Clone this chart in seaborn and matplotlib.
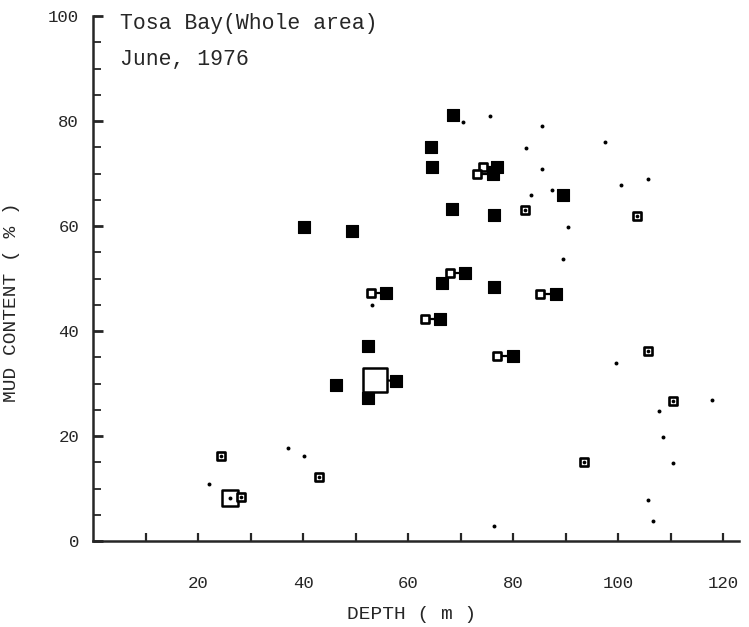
import matplotlib
matplotlib.use('Agg')
import matplotlib.pyplot as plt
import seaborn as sns

# filled squares standing alone (depth m, mud %)
filled_depth = [40.2, 49.3, 68.5, 64.4, 64.5, 89.5, 68.4, 76.4, 66.4, 76.4, 52.3, 46.2, 52.3, 57.7]
filled_mud = [59.9, 59.0, 81.1, 75.1, 71.2, 66.0, 63.2, 62.1, 49.1, 48.3, 37.1, 29.7, 27.2, 30.5]

# open square joined to a filled square
pair_open_depth = [52.9, 63.2, 68.0, 76.9, 85.1, 74.2, 73.1]
pair_filled_depth = [55.7, 66.1, 70.9, 79.9, 88.1, 77.0, 76.1]
pair_mud = [47.2, 42.2, 51.0, 35.3, 47.0, 71.2, 70.0]

# open squares with a dot inside
dotted_depth = [82.3, 103.6, 105.6, 110.5, 93.5, 24.3, 28.2, 43.1]
dotted_mud = [63.0, 62.0, 36.1, 26.7, 15.1, 16.1, 8.3, 12.1]

# large open squares and the marks they are joined to
big_depth = [26.1, 53.6]
big_mud = [8.1, 30.7]
big_partner_depth = [28.2, 57.7]
big_partner_mud = [8.3, 30.5]

# small dots
dot_depth = [70.5, 75.5, 85.5, 97.5, 82.5, 85.5, 100.6, 105.6, 83.4, 87.4, 90.5, 89.5,
             53.1, 99.6, 117.8, 107.7, 108.6, 110.5, 105.6, 106.6, 76.4, 22.0, 37.2,
             40.2, 26.1]
dot_mud = [79.9, 81.0, 79.0, 76.0, 74.8, 70.9, 67.9, 68.9, 66.0, 66.9, 59.9, 53.7,
           44.9, 34.0, 26.9, 24.7, 19.8, 14.8, 7.8, 3.8, 2.9, 10.9, 17.7,
           16.1, 8.1]

sns.set_style('ticks')
plt.rcParams['font.family'] = ['Liberation Mono', 'DejaVu Sans Mono']

fig = plt.figure(figsize=(7.49, 6.27), dpi=100)
ax = fig.add_axes([93 / 749, 86 / 627, 646 / 749, 525 / 627])

# connecting lines
for xo, xf, y in zip(pair_open_depth, pair_filled_depth, pair_mud):
    ax.plot([xo, xf], [y, y], color='black', lw=1.6, zorder=1)
for xb, yb, xp, yp in zip(big_depth, big_mud, big_partner_depth, big_partner_mud):
    ax.plot([xb, xp], [yb, yp], color='black', lw=1.6, zorder=1)

sns.scatterplot(x=filled_depth + pair_filled_depth, y=filled_mud + pair_mud, marker='s',
                s=74, color='black', edgecolor='black', linewidth=0.8, ax=ax, zorder=3)
sns.scatterplot(x=pair_open_depth, y=pair_mud, marker='s', s=38, color='white',
                edgecolor='black', linewidth=1.9, ax=ax, zorder=4)
sns.scatterplot(x=dotted_depth, y=dotted_mud, marker='s', s=36, color='white',
                edgecolor='black', linewidth=1.9, ax=ax, zorder=4)
sns.scatterplot(x=dotted_depth, y=dotted_mud, marker='o', s=7, color='black',
                linewidth=0, ax=ax, zorder=5)
sns.scatterplot(x=big_depth[:1], y=big_mud[:1], marker='s', s=140, color='white',
                edgecolor='black', linewidth=1.8, ax=ax, zorder=2)
sns.scatterplot(x=big_depth[1:], y=big_mud[1:], marker='s', s=290, color='white',
                edgecolor='black', linewidth=1.8, ax=ax, zorder=2)
sns.scatterplot(x=dot_depth, y=dot_mud, marker='o', s=8, color='black',
                linewidth=0, ax=ax, zorder=5)

ax.set_xlim(0, 123)
ax.set_ylim(0, 100)
sns.despine(ax=ax)
ax.spines['left'].set_linewidth(1.8)
ax.spines['bottom'].set_linewidth(1.8)

ax.set_xticks([20, 40, 60, 80, 100, 120])
ax.set_xticks([10, 30, 50, 70, 90, 110], minor=True)
ax.set_yticks([0, 20, 40, 60, 80, 100])
ax.set_yticks([5, 10, 15, 25, 30, 35, 45, 50, 55, 65, 70, 75, 85, 90, 95], minor=True)
ax.tick_params(axis='x', which='both', direction='in', length=6, width=1.6,
               pad=25, labelsize=12.5)
ax.tick_params(axis='y', which='major', direction='in', length=7.5, width=2,
               pad=10, labelsize=12.5)
ax.tick_params(axis='y', which='minor', direction='in', length=6, width=1.3)

ax.set_xlabel('DEPTH ( m )', fontsize=14)
ax.set_ylabel('MUD CONTENT ( % )', fontsize=14)
ax.xaxis.set_label_coords(0.494, -0.124)
ax.yaxis.set_label_coords(-0.113, 0.455)

ax.text(5.1, 100.6, 'Tosa Bay(Whole area)', fontsize=15.5, va='top', ha='left')
ax.text(5.1, 93.7, 'June, 1976', fontsize=15.5, va='top', ha='left')

fig.savefig('out.png', dpi=100)
